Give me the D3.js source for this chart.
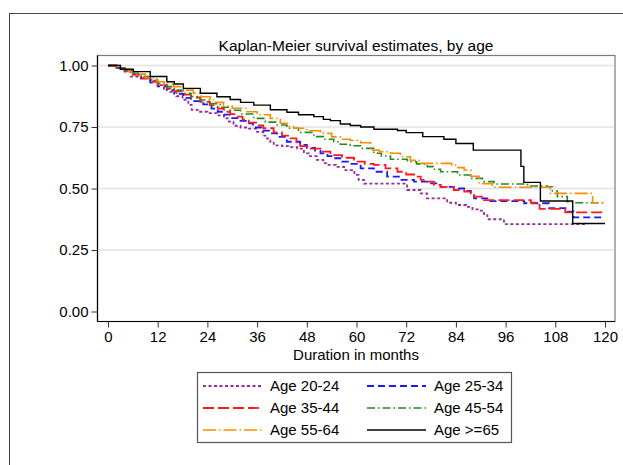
<!DOCTYPE html>
<html>
<head>
<meta charset="utf-8">
<script src="https://cdn.jsdelivr.net/npm/d3@7"></script>
<style>
  html, body { margin: 0; padding: 0; background: #fff; }
  svg { display: block; font-family: "Liberation Sans", Arial, sans-serif; }
</style>
</head>
<body>
<svg id="chart" width="623" height="465"></svg>
<script>
// Kaplan-Meier survival estimates by age group: [month, survival] step points
const age2024 = [[0,1],[2,0.99],[4,0.975],[5.5,0.955],[8,0.948],[10.2,0.938],[12,0.92],[13.5,0.905],[15,0.893],[16.5,0.875],[18,0.86],[19.4,0.84],[20.2,0.82],[22,0.812],[24,0.806],[26.3,0.797],[28,0.785],[29.2,0.772],[30.3,0.755],[32,0.748],[34,0.743],[36,0.73],[37.5,0.715],[38.4,0.703],[39.2,0.69],[40,0.675],[42,0.672],[44,0.668],[45.7,0.662],[47.3,0.643],[48.5,0.632],[50.4,0.616],[52,0.603],[53,0.596],[55,0.588],[57,0.575],[59.5,0.555],[60.5,0.535],[61.8,0.52],[72.2,0.494],[75.5,0.48],[77,0.46],[81.9,0.442],[84,0.433],[86.5,0.425],[88,0.415],[90,0.41],[90.8,0.392],[91.6,0.375],[95.6,0.355],[115.8,0.355]];
const age2534 = [[0,1],[2,0.99],[4,0.98],[6,0.965],[8,0.948],[10.2,0.93],[12,0.915],[14.2,0.9],[16,0.885],[18.2,0.868],[20,0.855],[23,0.842],[25,0.825],[26.5,0.812],[28,0.8],[30,0.786],[32,0.775],[33.5,0.765],[35,0.748],[37,0.735],[39.2,0.724],[40.8,0.71],[43.2,0.69],[46.4,0.677],[48,0.665],[50,0.654],[51.3,0.643],[53,0.632],[54.5,0.623],[56.5,0.609],[58.5,0.6],[61,0.582],[64.2,0.568],[67.4,0.548],[70.6,0.535],[73.9,0.528],[77.1,0.521],[80.3,0.507],[83.5,0.5],[86,0.49],[87.6,0.48],[88.4,0.46],[91.6,0.449],[100.5,0.44],[106.5,0.42],[110.9,0.406],[112.4,0.383],[120,0.383]];
const age3544 = [[0,1],[2,0.99],[4,0.978],[6.1,0.962],[8,0.948],[10.2,0.934],[12,0.92],[14.2,0.907],[16,0.895],[18.2,0.882],[20,0.87],[22.3,0.852],[24.6,0.839],[26.5,0.825],[28,0.812],[29.5,0.802],[31,0.792],[32.5,0.78],[34,0.768],[35.8,0.756],[37.5,0.745],[40,0.728],[42,0.715],[44,0.704],[45.5,0.688],[46.4,0.672],[49,0.662],[51.3,0.65],[53.7,0.636],[56.5,0.625],[59.4,0.609],[62,0.6],[64.2,0.596],[67,0.582],[69.9,0.568],[72,0.557],[73.9,0.548],[75.5,0.535],[77.1,0.528],[78.7,0.515],[80.3,0.507],[83.5,0.494],[86,0.487],[87.6,0.48],[88.4,0.467],[90.8,0.453],[102.1,0.442],[103.7,0.433],[104.2,0.417],[110.4,0.403],[120,0.403]];
const age4554 = [[0,1],[2,0.99],[4,0.98],[6.1,0.968],[8,0.955],[10.2,0.941],[12,0.928],[14.2,0.914],[16,0.9],[18.2,0.887],[20,0.874],[22.3,0.86],[24.5,0.845],[27.1,0.83],[29.5,0.818],[32,0.803],[35.2,0.785],[38,0.77],[40.5,0.758],[43.2,0.745],[46,0.728],[49.7,0.711],[52,0.7],[54.5,0.69],[56.1,0.68],[58.5,0.674],[61,0.663],[64.2,0.643],[66,0.632],[68.2,0.619],[72.3,0.609],[74.5,0.6],[77.1,0.589],[78.5,0.578],[80.3,0.568],[84.4,0.555],[87.6,0.541],[90.4,0.528],[93.2,0.518],[101.3,0.51],[106.1,0.507],[107.3,0.49],[108.5,0.467],[110.9,0.446],[112.6,0.442],[120,0.442]];
const age5564 = [[0,1],[3,0.985],[5,0.975],[6.9,0.965],[9,0.95],[11.8,0.934],[13.5,0.925],[15.8,0.914],[18,0.9],[20.6,0.887],[22.5,0.873],[24.7,0.86],[26,0.85],[27.9,0.835],[30,0.826],[33.6,0.812],[36,0.8],[39.2,0.785],[41.6,0.765],[43.2,0.752],[44.8,0.745],[48,0.735],[51.3,0.724],[54,0.71],[56.1,0.7],[58.5,0.695],[61,0.686],[63.4,0.656],[65.5,0.65],[68.2,0.643],[70.6,0.629],[73,0.615],[75.1,0.602],[83,0.595],[84.5,0.585],[86,0.575],[87.6,0.55],[89.6,0.52],[92.8,0.505],[106.8,0.48],[117,0.442],[120,0.442]];
const age65up = [[0,1],[3,0.985],[6.1,0.975],[10.2,0.955],[14.2,0.934],[16,0.925],[18.2,0.907],[22.3,0.887],[26.3,0.873],[29.5,0.862],[32,0.85],[35.2,0.839],[39.2,0.82],[43.2,0.81],[46,0.8],[49.7,0.792],[52,0.781],[53.7,0.776],[56.1,0.762],[58.5,0.756],[61,0.75],[64.2,0.741],[69.9,0.736],[72,0.727],[76,0.711],[81.1,0.7],[84,0.683],[88.2,0.656],[99.7,0.59],[100.4,0.525],[104.4,0.449],[112.2,0.358],[120,0.358]];

const groups = ["Age 20-24", "Age 25-34", "Age 35-44", "Age 45-54", "Age 55-64", "Age >=65"];
const seriesValues = [age2024, age2534, age3544, age4554, age5564, age65up];
const xTicks = [0, 12, 24, 36, 48, 60, 72, 84, 96, 108, 120];
const yTicks = [0, 0.25, 0.5, 0.75, 1];

const styles = [
  { color: "#9a2a9e", dash: "3,2.5", width: 1.8 },
  { color: "#1a1aff", dash: "7,4", width: 1.8 },
  { color: "#ff1a1a", dash: "11,4", width: 1.8 },
  { color: "#228b22", dash: "8,3,1.5,3", width: 1.6 },
  { color: "#ff8c00", dash: "13,3,1.5,3", width: 1.6 },
  { color: "#000000", dash: null, width: 1.4 }
];

const FONT = "'Liberation Sans', Arial, sans-serif";
const svg = d3.select("#chart");

// outer graph frame
svg.append("rect").attr("x", 9.5).attr("y", 13.5).attr("width", 700).attr("height", 600)
  .attr("fill", "#fff").attr("stroke", "#444").attr("stroke-width", 1);

const x = d3.scaleLinear().domain([0, 120]).range([108, 605]);
const y = d3.scaleLinear().domain([0, 1]).range([311.5, 65.5]);

const plotL = 97.5, plotR = 615, plotT = 55.5, plotB = 321.5;

// plot region border
svg.append("rect").attr("x", plotL).attr("y", plotT).attr("width", plotR - plotL).attr("height", plotB - plotT)
  .attr("fill", "#fff").attr("stroke", "#7a7a7a").attr("stroke-width", 1.2);

// gridlines
svg.append("g").selectAll("line").data(yTicks.filter(d => d > 0)).join("line")
  .attr("x1", plotL + 1).attr("x2", plotR - 1)
  .attr("y1", d => y(d)).attr("y2", d => y(d))
  .attr("stroke", "#e2e2e2").attr("stroke-width", 1.4);

// title
svg.append("text").attr("x", 356).attr("y", 50.5).attr("text-anchor", "middle")
  .attr("font-size", 15.5).attr("fill", "#000").text("Kaplan-Meier survival estimates, by age");

// curves
const line = d3.line().x(d => x(d[0])).y(d => y(d[1])).curve(d3.curveStepAfter);
svg.append("g").selectAll("path").data(seriesValues).join("path")
  .attr("d", line)
  .attr("fill", "none")
  .attr("stroke", (d, i) => styles[i].color)
  .attr("stroke-width", (d, i) => styles[i].width)
  .attr("stroke-dasharray", (d, i) => styles[i].dash);

// axes
const xAxis = d3.axisBottom(x).tickValues(xTicks).tickFormat(d3.format("d")).tickSize(6).tickPadding(4).tickSizeOuter(0);
const gx = svg.append("g").attr("transform", `translate(0,${plotB})`).call(xAxis);
gx.select(".domain").attr("d", `M${plotL},0H${plotR}`).attr("stroke", "#000").attr("stroke-width", 1.2);

const yAxis = d3.axisLeft(y).tickValues(yTicks).tickFormat(d3.format(".2f")).tickSize(6).tickPadding(3).tickSizeOuter(0);
const gy = svg.append("g").attr("transform", `translate(${plotL},0)`).call(yAxis);
gy.select(".domain").attr("d", `M0,${plotT}V${plotB}`).attr("stroke", "#000").attr("stroke-width", 1.2);

[gx, gy].forEach(g => {
  g.selectAll(".tick line").attr("stroke", "#333").attr("stroke-width", 1);
  g.selectAll(".tick text").attr("font-size", 15).attr("fill", "#000").attr("font-family", FONT);
});

svg.append("text").attr("x", 356).attr("y", 360).attr("text-anchor", "middle")
  .attr("font-size", 15).attr("fill", "#000").text("Duration in months");

// legend
const lg = svg.append("g");
lg.append("rect").attr("x", 197.5).attr("y", 372.5).attr("width", 314).attr("height", 70)
  .attr("fill", "#fff").attr("stroke", "#555").attr("stroke-width", 1.2);
const colX = [203, 367], rowY = [386, 408, 430];
groups.forEach((g, i) => {
  const cx = colX[i % 2], cy = rowY[Math.floor(i / 2)];
  lg.append("line").attr("x1", cx).attr("x2", cx + 59).attr("y1", cy).attr("y2", cy)
    .attr("stroke", styles[i].color).attr("stroke-width", styles[i].width)
    .attr("stroke-dasharray", styles[i].dash);
  lg.append("text").attr("x", cx + 67).attr("y", cy + 5.3).attr("font-size", 15).attr("fill", "#000").text(g);
});
</script>
</body>
</html>
